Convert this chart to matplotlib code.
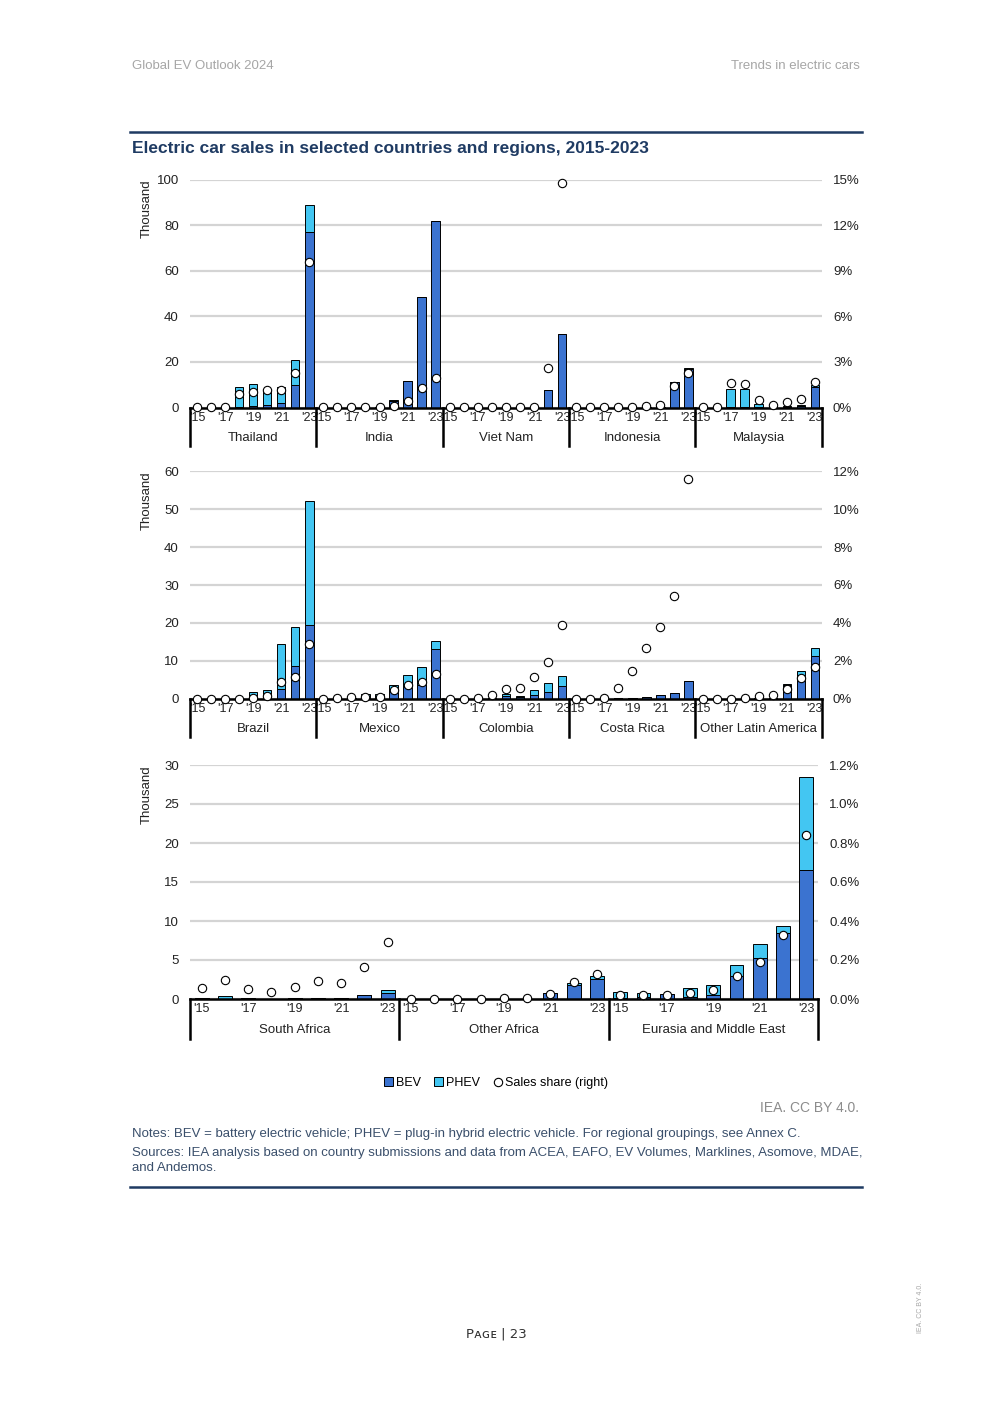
import numpy as np
import matplotlib
matplotlib.use("Agg")
import matplotlib.pyplot as plt
from matplotlib.lines import Line2D
from matplotlib.patches import Patch
import matplotlib.transforms as mtransforms

plt.rcParams['font.family'] = ['Liberation Sans', 'DejaVu Sans']

years = ['2015', '2016', '2017', '2018', '2019', '2020', '2021', '2022', '2023']
year_ticks = ["'15", "", "'17", "", "'19", "", "'21", "", "'23"]

# ---- panel 1: Asia (thousand vehicles, share in %) ----
p1_names = ['Thailand', 'India', 'Viet Nam', 'Indonesia', 'Malaysia']
p1_bev = [
    [0, 0, 0, 0.3, 0.5, 1.0, 2.0, 10.0, 77.0],
    [0, 0, 0, 0, 0.1, 3.0, 11.8, 48.3, 82.0],
    [0, 0, 0, 0, 0, 0, 0, 7.6, 32.2],
    [0, 0, 0, 0, 0, 0.1, 0.2, 11.0, 16.7],
    [0, 0, 0.2, 0.2, 0.1, 0.1, 0.3, 0.8, 9.1],
]
p1_phev = [
    [0, 0, 0, 8.5, 10.0, 7.3, 7.1, 11.0, 12.0],
    [0, 0, 0, 0, 0, 0.3, 0, 0, 0],
    [0, 0, 0, 0, 0, 0, 0, 0, 0],
    [0, 0, 0, 0, 0, 0, 0, 0.1, 0.6],
    [0, 0, 8.1, 8.1, 1.6, 0.2, 0.2, 0.5, 0.7],
]
p1_share = [
    [0.0, 0.0, 0.0, 0.92, 1.03, 1.12, 1.16, 2.3, 9.6],
    [0.0, 0.0, 0.0, 0.0, 0.0, 0.13, 0.42, 1.27, 1.97],
    [0.0, 0.0, 0.0, 0.0, 0.0, 0.0, 0.0, 2.59, 14.8],
    [0.0, 0.0, 0.0, 0.0, 0.0, 0.13, 0.15, 1.4, 2.28],
    [0.0, 0.0, 1.64, 1.53, 0.48, 0.18, 0.33, 0.53, 1.69],
]

# ---- panel 2: Latin America ----
p2_names = ['Brazil', 'Mexico', 'Colombia', 'Costa Rica', 'Other Latin America']
p2_bev = [
    [0, 0, 0, 0, 0.3, 0.5, 2.6, 8.5, 19.3],
    [0, 0, 0.1, 0.2, 0.3, 1.8, 3.0, 3.5, 13.1],
    [0, 0, 0, 0.05, 0.6, 0.3, 0.8, 1.8, 3.3],
    [0, 0, 0, 0.05, 0.2, 0.4, 0.9, 1.5, 4.75],
    [0, 0, 0, 0, 0.1, 0.2, 3.6, 6.3, 11.2],
]
p2_phev = [
    [0, 0, 0, 0, 1.5, 1.8, 11.7, 10.3, 32.9],
    [0, 0, 0.1, 0.9, 1.0, 1.8, 3.3, 4.7, 2.1],
    [0, 0, 0, 0.05, 0.6, 0.4, 1.5, 2.4, 2.7],
    [0, 0, 0, 0, 0, 0, 0, 0, 0],
    [0, 0, 0, 0, 0, 0, 0.3, 0.9, 2.2],
]
p2_share = [
    [0.0, 0.0, 0.0, 0.0, 0.05, 0.12, 0.86, 1.14, 2.9],
    [0.0, 0.05, 0.1, 0.1, 0.1, 0.46, 0.7, 0.86, 1.3],
    [0.0, 0.0, 0.02, 0.2, 0.51, 0.53, 1.14, 1.94, 3.87],
    [0.0, 0.0, 0.02, 0.55, 1.44, 2.66, 3.8, 5.42, 11.6],
    [0.0, 0.0, 0.0, 0.03, 0.12, 0.2, 0.51, 1.07, 1.67],
]

# ---- panel 3: Africa, Eurasia and Middle East ----
p3_names = ['South Africa', 'Other Africa', 'Eurasia and Middle East']
p3_bev = [
    [0.1, 0.05, 0.1, 0.05, 0.1, 0.1, 0.1, 0.55, 0.75],
    [0, 0, 0, 0, 0, 0, 0.8, 1.8, 2.6],
    [0.15, 0.2, 0.6, 0.3, 0.5, 2.9, 5.2, 8.5, 16.6],
]
p3_phev = [
    [0, 0.3, 0, 0, 0, 0, 0, 0, 0.35],
    [0, 0, 0, 0, 0, 0, 0, 0.3, 0.4],
    [0.8, 0.6, 0.1, 1.15, 1.25, 1.5, 1.8, 0.8, 11.8],
]
p3_share = [
    [0.057, 0.10, 0.05, 0.038, 0.063, 0.092, 0.084, 0.166, 0.29],
    [0.0, 0.0, 0.0, 0.0, 0.003, 0.005, 0.026, 0.087, 0.128],
    [0.022, 0.019, 0.019, 0.033, 0.048, 0.116, 0.19, 0.33, 0.84],
]

bev_color = '#3b73d0'
phev_color = '#43c6f2'
grid_color = '#d4d4d4'
text_color = '#222222'

fig = plt.figure(figsize=(9.92, 14.03), dpi=100)


def draw_panel(rect, names, bev, phev, share, ymax, ystep, smax, sstep, sfmt, sep_depth):
    ax = fig.add_axes(rect)
    n = len(names)
    ny = len(years)
    for g in range(n):
        x = np.arange(ny) + g * ny
        ax.bar(x, bev[g], width=0.6, color=bev_color, edgecolor='black', linewidth=0.7, zorder=3)
        ax.bar(x, phev[g], width=0.6, bottom=bev[g], color=phev_color, edgecolor='black',
               linewidth=0.7, zorder=3)
    ax.set_xlim(-0.5, n * ny - 0.5)
    ax.set_ylim(0, ymax)
    ax.set_yticks(np.arange(0, ymax + 0.001, ystep))
    ax.yaxis.grid(True, color=grid_color, linewidth=1.6, zorder=0)
    ax.set_axisbelow(True)
    for s in ['top', 'right', 'left']:
        ax.spines[s].set_visible(False)
    ax.spines['bottom'].set_linewidth(1.8)
    ax.spines['bottom'].set_zorder(4)
    ax.tick_params(axis='y', length=0, labelsize=9.5, colors=text_color, pad=8)
    ax.set_xticks(np.arange(n * ny))
    ax.set_xticklabels(year_ticks * n)
    ax.tick_params(axis='x', length=0, labelsize=9, colors=text_color, pad=3)
    ax.set_ylabel('Thousand', fontsize=9.5, color=text_color, loc='top')
    ax.yaxis.set_label_coords(-37 / (rect[2] * 992), 1.0)

    trans = mtransforms.blended_transform_factory(ax.transData, ax.transAxes)
    for g in range(n + 1):
        ax.plot([g * ny - 0.5, g * ny - 0.5], [0, -sep_depth], color='black', linewidth=1.8,
                transform=trans, clip_on=False, zorder=5)
    for g, name in enumerate(names):
        ax.text(g * ny + (ny - 1) / 2, -sep_depth * 0.78, name, transform=trans, ha='center',
                va='center', fontsize=9.5, color=text_color)

    ax2 = ax.twinx()
    for g in range(n):
        x = np.arange(ny) + g * ny
        ax2.plot(x, share[g], linestyle='none', marker='o', markersize=6,
                 markerfacecolor='white', markeredgecolor='black', markeredgewidth=0.8,
                 zorder=6, clip_on=False)
    ax2.set_ylim(0, smax)
    ax2.set_yticks(np.arange(0, smax + 0.0001, sstep))
    ax2.set_yticklabels([sfmt.format(v) for v in np.arange(0, smax + 0.0001, sstep)])
    for s in ['top', 'right', 'left', 'bottom']:
        ax2.spines[s].set_visible(False)
    ax2.tick_params(axis='y', length=0, labelsize=9.5, colors=text_color, pad=8)
    return ax, ax2


draw_panel([0.1915, 1 - 407.5 / 1403, 0.637, 228 / 1403], p1_names, p1_bev, p1_phev, p1_share,
           100, 20, 15, 3, '{:.0f}%', 0.17)
draw_panel([0.1915, 1 - 698.5 / 1403, 0.637, 227 / 1403], p2_names, p2_bev, p2_phev, p2_share,
           60, 10, 12, 2, '{:.0f}%', 0.17)
draw_panel([0.1915, 1 - 999 / 1403, 0.633, 234 / 1403], p3_names, p3_bev, p3_phev, p3_share,
           30, 5, 1.2, 0.2, '{:.1f}%', 0.17)

# legend
handles = [
    Patch(facecolor=bev_color, edgecolor='black', linewidth=0.7, label='BEV'),
    Patch(facecolor=phev_color, edgecolor='black', linewidth=0.7, label='PHEV'),
    Line2D([], [], linestyle='none', marker='o', markersize=6, markerfacecolor='white',
           markeredgecolor='black', markeredgewidth=0.8, label='Sales share (right)'),
]
fig.legend(handles=handles, loc='center', bbox_to_anchor=(0.5, 1 - 1083 / 1403), ncol=3,
           frameon=False, fontsize=9, handlelength=0.7, handleheight=0.7, handletextpad=0.2,
           columnspacing=1.1)

# page decoration
fig.text(132 / 992, 1 - 66 / 1403, 'Global EV Outlook 2024', fontsize=9.5, color='#a6a6a6',
         ha='left', va='center')
fig.text(860 / 992, 1 - 66 / 1403, 'Trends in electric cars', fontsize=9.5, color='#a6a6a6',
         ha='right', va='center')
fig.add_artist(Line2D([130 / 992, 862 / 992], [1 - 132 / 1403, 1 - 132 / 1403], color='#1f3b63',
                      linewidth=1.8))
fig.text(132 / 992, 1 - 148 / 1403, 'Electric car sales in selected countries and regions, 2015-2023',
         fontsize=12.5, fontweight='bold', color='#1f3b63', ha='left', va='center')

fig.text(859 / 992, 1 - 1108 / 1403, 'IEA. CC BY 4.0.', fontsize=10, color='#8c8c8c',
         ha='right', va='center')
notes_color = '#3a4f6b'
fig.text(132 / 992, 1 - 1134 / 1403,
         'Notes: BEV = battery electric vehicle; PHEV = plug-in hybrid electric vehicle. '
         'For regional groupings, see Annex C.',
         fontsize=9.5, color=notes_color, ha='left', va='center')
fig.text(132 / 992, 1 - 1153 / 1403,
         'Sources: IEA analysis based on country submissions and data from ACEA, EAFO, EV Volumes, '
         'Marklines, Asomove, MDAE,',
         fontsize=9.5, color=notes_color, ha='left', va='center')
fig.text(132 / 992, 1 - 1168 / 1403, 'and Andemos.', fontsize=9.5, color=notes_color,
         ha='left', va='center')
fig.add_artist(Line2D([130 / 992, 862 / 992], [1 - 1187 / 1403, 1 - 1187 / 1403], color='#1f3b63',
                      linewidth=1.8))

fig.text(496 / 992, 1 - 1334 / 1403, 'P\u1d00\u0262\u1d07 | 23', fontsize=9.5, color='#333333',
         ha='center', va='center', family=['DejaVu Sans'])
fig.text(921 / 992, 1 - 1308 / 1403, 'IEA. CC BY 4.0.', fontsize=5, color='#a6a6a6',
         rotation=90, ha='center', va='center')

fig.savefig('out.png', dpi=100)
